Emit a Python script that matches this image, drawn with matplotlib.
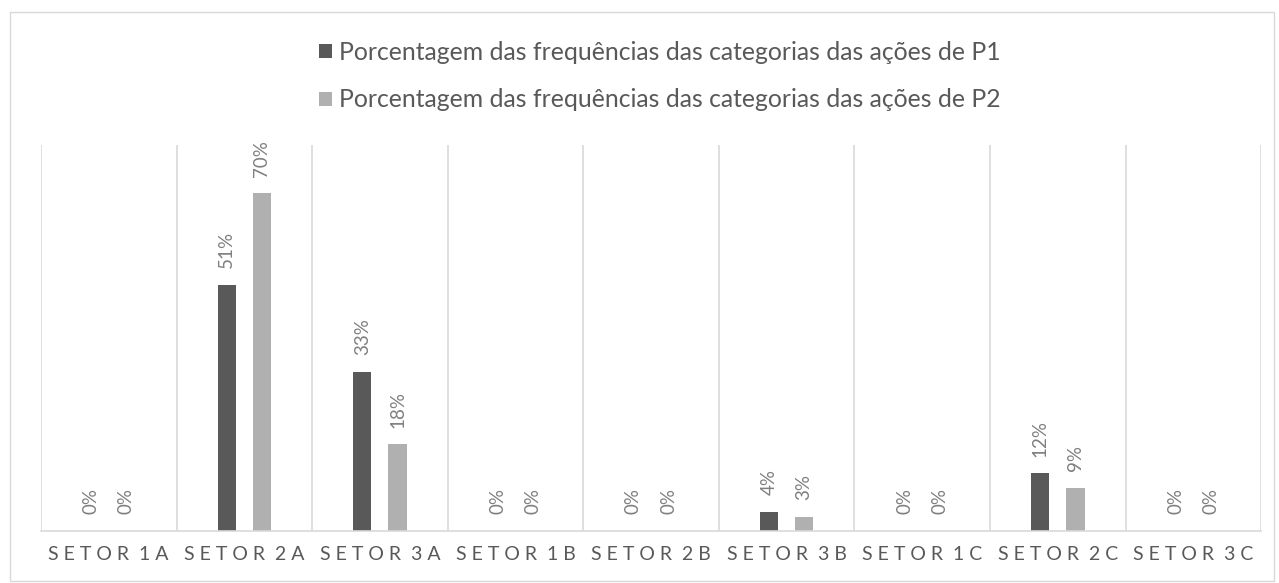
import matplotlib.pyplot as plt
import numpy as np
from matplotlib.patches import Rectangle

plt.rcParams['font.family'] = ['Lato', 'DejaVu Sans']

sectors = ['SETOR 1A', 'SETOR 2A', 'SETOR 3A', 'SETOR 1B', 'SETOR 2B',
           'SETOR 3B', 'SETOR 1C', 'SETOR 2C', 'SETOR 3C']
p1 = [0, 51, 33, 0, 0, 4, 0, 12, 0]
p2 = [0, 70, 18, 0, 0, 3, 0, 9, 0]
series_names = ['Porcentagem das frequências das categorias das ações de P1',
                'Porcentagem das frequências das categorias das ações de P2']

dark = '#595959'
light = '#B0B0B0'
text_gray = '#595959'
grid_gray = '#D9D9D9'


def spaced(label):
    return ' '.join(label).replace('   ', '  ')


fig = plt.figure(figsize=(12.79, 5.83), dpi=100)
ax = fig.add_axes([0.032, 0.089, 0.954, 0.662])

x = np.arange(len(sectors))
w = 0.135
b1 = ax.bar(x - 0.13, p1, w, color=dark, label=series_names[0])
b2 = ax.bar(x + 0.13, p2, w, color=light, label=series_names[1])

for bars, vals in ((b1, p1), (b2, p2)):
    for rect, v in zip(bars, vals):
        ax.annotate(f'{v}%', xy=(rect.get_x() + rect.get_width() / 2, rect.get_height()),
                    xytext=(0, 12), textcoords='offset points', rotation=90,
                    ha='center', va='bottom', fontsize=13.5, color='#7F7F7F')

ax.set_xlim(-0.5, len(sectors) - 0.5)
ax.set_ylim(0, 80)
ax.set_yticks([])
ax.set_xticks(x)
ax.set_xticklabels([spaced(s) for s in sectors], fontsize=14, color=text_gray)
ax.tick_params(axis='x', length=0, pad=11)

for xv in np.arange(-0.5, len(sectors), 1.0):
    ax.axvline(xv, color=grid_gray, linewidth=1.2, zorder=0)

for side in ('top', 'left', 'right'):
    ax.spines[side].set_visible(False)
ax.spines['bottom'].set_color(grid_gray)
ax.spines['bottom'].set_linewidth(1.2)

fig.legend(loc='upper center', bbox_to_anchor=(0.516, 0.96), ncol=1, frameon=False,
           fontsize=17.8, labelcolor=text_gray, handlelength=0.5, handleheight=0.5,
           handletextpad=0.3, labelspacing=1.0, borderpad=0.2)

fig.patches.append(Rectangle((0.008, 0.004), 0.988, 0.975, transform=fig.transFigure,
                             fill=False, edgecolor=grid_gray, linewidth=1))

fig.savefig('out.png', dpi=100)
